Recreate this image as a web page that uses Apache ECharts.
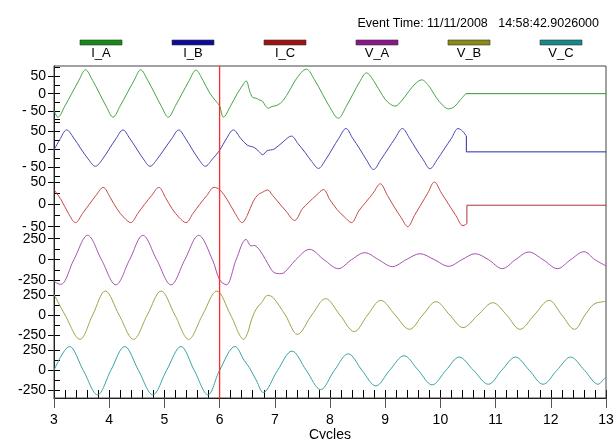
<!DOCTYPE html>
<html><head><meta charset="utf-8">
<script src="https://cdn.jsdelivr.net/npm/echarts@6/dist/echarts.min.js"></script>
<style>html,body{margin:0;padding:0;background:#fff}#c{width:614px;height:439px}</style>
</head><body><div id="c"></div>
<script>
// ---------- data ----------
const SERIES_NAMES = ['I_A', 'I_B', 'I_C', 'V_A', 'V_B', 'V_C'];
const EVENT_TIME = 'Event Time: 11/11/2008   14:58:42.9026000';
const X_AXIS_NAME = 'Cycles';
const X_MIN = 3, X_MAX = 13;
const FAULT_X = 6;
const Y_TICKS_I = [-50, 0, 50];
const Y_MINOR_I = [-75, -50, -25, 0, 25, 50, 75];
const Y_TICKS_V = [-250, 0, 250];
const Y_MINOR_V = [-250, -125, 0, 125, 250];

const IA_WAVE = [[3.00,-48],[3.07,-68],[3.20,-35],[3.32,0],[3.45,38],[3.57,69],[3.70,38],[3.82,2],[3.95,-38],[4.07,-68],
  [4.20,-35],[4.32,0],[4.45,38],[4.57,69],[4.70,38],[4.82,2],[4.95,-38],[5.07,-68],[5.20,-35],[5.32,0],[5.45,38],[5.57,68],
  [5.70,38],[5.82,2],[5.95,-25],[6.00,-35],[6.07,-68],[6.20,-35],[6.32,0],[6.42,25],[6.48,37],[6.55,5],[6.60,-11],[6.66,-13],
  [6.72,-18],[6.78,-22],[6.83,-35],[6.88,-42],[6.95,-37],[7.05,-33],[7.15,-20],[7.27,10],[7.40,45],[7.57,71],[7.72,40],
  [7.86,0],[8.00,-40],[8.15,-71],[8.30,-35],[8.42,0],[8.54,35],[8.66,60],[8.80,35],[8.95,-5],[9.05,-25],[9.18,-36],[9.30,-20],
  [9.42,5],[9.54,28],[9.66,40],[9.80,20],[9.92,-10],[10.05,-35],[10.15,-44],[10.25,-38],[10.35,-20],[10.46,0]];
const IA_TAIL = [[10.46,0],[13,0]];

const IB_WAVE = [[3.00,-3],[3.10,25],[3.23,53],[3.36,30],[3.49,0],[3.62,-28],[3.75,-48],[3.88,-28],[4.00,0],[4.12,28],[4.25,53],
  [4.37,30],[4.50,0],[4.62,-28],[4.74,-48],[4.87,-28],[5.00,0],[5.13,28],[5.26,53],[5.38,30],[5.50,0],[5.62,-28],[5.74,-48],
  [5.87,-28],[6.00,-4],[6.12,28],[6.25,53],[6.38,30],[6.50,11],[6.63,4],[6.72,-8],[6.78,-16],[6.86,-5],[6.99,0],[7.15,20],
  [7.30,36],[7.42,15],[7.55,-10],[7.67,-35],[7.79,-54],[7.92,-30],[8.04,0],[8.16,30],[8.29,57],[8.41,30],[8.54,0],[8.66,-30],
  [8.79,-57],[8.92,-30],[9.05,0],[9.18,30],[9.31,57],[9.44,30],[9.56,0],[9.69,-30],[9.81,-55],[9.94,-30],[10.07,0],[10.20,30],
  [10.32,57],[10.40,50],[10.47,36]];
const IB_TAIL = [[10.47,36],[10.47,-8],[13,-8]];

const IC_WAVE = [[3.00,33],[3.13,10],[3.26,-20],[3.39,-41],[3.52,-20],[3.64,0],[3.76,20],[3.89,38],[4.02,15],[4.14,-10],[4.27,-30],
  [4.39,-41],[4.52,-20],[4.64,0],[4.77,20],[4.90,38],[5.02,15],[5.14,-10],[5.27,-30],[5.39,-41],[5.52,-20],[5.64,0],[5.77,20],
  [5.90,38],[6.00,33],[6.14,10],[6.28,-20],[6.41,-41],[6.50,-25],[6.61,7],[6.70,22],[6.76,26],[6.87,32],[6.96,20],[7.05,7],
  [7.20,-15],[7.36,-36],[7.50,-10],[7.62,5],[7.75,20],[7.88,33],[8.00,10],[8.13,-12],[8.26,-28],[8.39,-41],[8.52,-15],[8.65,5],
  [8.78,25],[8.91,46],[9.04,20],[9.16,-5],[9.29,-30],[9.41,-50],[9.53,-25],[9.65,0],[9.77,25],[9.89,50],[10.02,25],[10.15,0],
  [10.28,-25],[10.41,-48],[10.48,-43]];
const IC_TAIL = [[10.48,-43],[10.48,-2],[13,-2]];

const VA_WAVE = [[3.00,-262],[3.12,-295],[3.36,0],[3.61,290],[3.86,0],[4.12,-300],[4.37,0],[4.61,290],[4.86,0],[5.12,-300],
  [5.37,0],[5.62,290],[5.87,0],[6.00,-240],[6.12,-300],[6.30,0],[6.48,242],[6.57,163],[6.62,170],[6.66,160],[6.73,111],
  [6.83,4],[6.92,-100],[6.99,-155],[7.12,-167],[7.25,-100],[7.38,0],[7.63,123],[7.89,0],[8.15,-107],[8.39,0],[8.63,83],
  [8.88,0],[9.13,-83],[9.38,0],[9.63,71],[9.89,0],[10.15,-79],[10.39,0],[10.63,71],[10.87,0],[11.12,-107],[11.36,0],
  [11.60,91],[11.86,0],[12.12,-107],[12.36,0],[12.60,95],[12.80,0],[13.00,-75]];

const VB_WAVE = [[3.00,258],[3.20,0],[3.47,-304],[3.70,0],[3.93,300],[4.18,0],[4.44,-304],[4.69,0],[4.94,300],[5.19,0],
  [5.44,-304],[5.69,0],[5.95,300],[6.20,0],[6.44,-304],[6.52,-200],[6.57,-75],[6.66,71],[6.76,154],[6.87,246],[6.97,217],
  [7.19,0],[7.41,-242],[7.67,0],[7.92,204],[8.18,0],[8.44,-208],[8.68,0],[8.92,183],[9.18,0],[9.44,-179],[9.68,0],
  [9.92,167],[10.17,0],[10.41,-158],[10.68,0],[10.95,154],[11.20,0],[11.44,-179],[11.70,0],[11.97,183],[12.20,0],
  [12.43,-179],[12.62,0],[12.78,135],[12.95,167],[13.00,170]];

const VC_WAVE = [[3.00,0],[3.28,300],[3.53,0],[3.79,-308],[4.03,0],[4.28,300],[4.53,0],[4.79,-308],[5.04,0],[5.30,300],
  [5.54,0],[5.79,-308],[6.00,0],[6.28,300],[6.45,120],[6.54,33],[6.67,-133],[6.79,-279],[7.05,0],[7.31,242],[7.57,0],
  [7.83,-242],[8.08,0],[8.33,208],[8.58,0],[8.83,-196],[9.08,0],[9.34,183],[9.60,0],[9.85,-183],[10.10,0],[10.34,167],
  [10.60,0],[10.87,-175],[11.11,0],[11.36,167],[11.61,0],[11.86,-175],[12.11,0],[12.36,167],[12.61,0],[12.86,-175],
  [12.97,-104],[13.00,-90]];

// ---------- styling / layout ----------
const WAVES = [IA_WAVE, IB_WAVE, IC_WAVE, VA_WAVE, VB_WAVE, VC_WAVE];
const TAILS = [IA_TAIL, IB_TAIL, IC_TAIL, null, null, null];
const LINE_COLORS = ['#47a347', '#4646b6', '#c64848', '#a450ae', '#a2a248', '#3aa3a3'];
const TAIL_COLORS = ['#2f962f', '#2a2aa6', '#b03434'];
const LEGEND_COLORS = ['#168a16', '#0c0c9c', '#a01212', '#8a168a', '#8a8a16', '#168a8a'];
const FAULT_COLOR = '#ff2a2a';
const Y_HALF = [80, 77, 62, 330, 346, 348];
const IS_CURRENT = [true, true, true, false, false, false];

const PLOT_TOP = 66, PLOT_BOTTOM = 398, PLOT_LEFT = 54, PLOT_RIGHT = 8;
const PH = (PLOT_BOTTOM - PLOT_TOP) / 6;
const FONT = 'Liberation Sans, Arial, sans-serif';

const grids = [], xAxes = [], yAxes = [], series = [];
for (let i = 0; i < 6; i++) {
  grids.push({left: PLOT_LEFT, right: PLOT_RIGHT, top: PLOT_TOP + i * PH, height: PH,
    containLabel: false, outerBoundsMode: 'none'});
  const isBottom = i === 5;
  xAxes.push({
    type: 'value', gridIndex: i, min: X_MIN, max: X_MAX, interval: 1, position: 'bottom',
    show: isBottom,
    axisLine: {show: isBottom, onZero: false, lineStyle: {color: '#000', width: 1}},
    axisTick: {show: isBottom, length: 10, inside: false, lineStyle: {color: '#555'}},
    axisLabel: {show: isBottom, fontSize: 14, color: '#000', margin: 15, fontFamily: FONT},
    splitLine: {show: false},
    name: isBottom ? X_AXIS_NAME : '', nameLocation: 'middle', nameGap: 28,
    nameTextStyle: {fontSize: 14, color: '#000', fontFamily: FONT}
  });
  const labels = IS_CURRENT[i] ? Y_TICKS_I : Y_TICKS_V;
  const minors = IS_CURRENT[i] ? Y_MINOR_I : Y_MINOR_V;
  const fmt = IS_CURRENT[i] ? (v => v < 0 ? '- ' + Math.abs(v) : String(v)) : (v => String(v));
  yAxes.push({
    type: 'value', gridIndex: i, min: -Y_HALF[i], max: Y_HALF[i], position: 'left',
    axisLine: {show: true, onZero: false, lineStyle: {color: '#000', width: 1}},
    axisTick: {show: true, inside: false, length: 6, customValues: labels, lineStyle: {color: '#000'}},
    axisLabel: {show: true, customValues: labels, formatter: fmt, fontSize: 14, color: '#000', margin: 8, fontFamily: FONT},
    splitLine: {show: false}
  });
  yAxes.push({
    type: 'value', gridIndex: i, min: -Y_HALF[i], max: Y_HALF[i], position: 'left', offset: 0,
    axisLine: {show: false, onZero: false},
    axisTick: {show: true, inside: true, length: 6, customValues: minors, lineStyle: {color: '#000'}},
    axisLabel: {show: false},
    splitLine: {show: false}
  });
  series.push({
    name: SERIES_NAMES[i], type: 'line', xAxisIndex: i, yAxisIndex: 2 * i,
    data: WAVES[i], smooth: 0.35, showSymbol: false, symbol: 'none',
    lineStyle: {color: LINE_COLORS[i], width: 1}, itemStyle: {color: LINE_COLORS[i]},
    animation: false, z: 3
  });
  if (TAILS[i]) {
    series.push({
      name: SERIES_NAMES[i] + ' tail', type: 'line', xAxisIndex: i, yAxisIndex: 2 * i,
      data: TAILS[i], smooth: false, showSymbol: false, symbol: 'none',
      lineStyle: {color: TAIL_COLORS[i], width: 1}, itemStyle: {color: TAIL_COLORS[i]}, animation: false, z: 3
    });
  }
}
// minor x ticks (inside) on bottom grid
xAxes.push({
  type: 'value', gridIndex: 5, min: X_MIN, max: X_MAX, interval: 0.2, position: 'bottom',
  axisLine: {show: false, onZero: false}, axisLabel: {show: false}, splitLine: {show: false},
  axisTick: {show: true, inside: true, length: 8, lineStyle: {color: '#000'}}
});
// frame grid spanning all panels (also carries the fault marker line)
grids.push({left: PLOT_LEFT, right: PLOT_RIGHT, top: PLOT_TOP, bottom: 439 - PLOT_BOTTOM, show: true,
  borderColor: '#444', borderWidth: 1, backgroundColor: 'transparent', z: 1,
  containLabel: false, outerBoundsMode: 'none'});
const FRAME_X = xAxes.length;
xAxes.push({type: 'value', gridIndex: 6, show: false, min: X_MIN, max: X_MAX});
const FRAME_Y = yAxes.length;
yAxes.push({type: 'value', gridIndex: 6, show: false, min: 0, max: 1});
series.push({
  name: 'fault', type: 'line', xAxisIndex: FRAME_X, yAxisIndex: FRAME_Y,
  data: [[FAULT_X, 0], [FAULT_X, 1]], showSymbol: false, symbol: 'none', silent: true,
  lineStyle: {color: FAULT_COLOR, width: 1.3, opacity: 1}, itemStyle: {color: FAULT_COLOR},
  emphasis: {disabled: true}, animation: false, z: 10
});

// legend drawn as graphic
const legendGraphics = [];
SERIES_NAMES.forEach((n, i) => {
  const cx = 101 + i * 92;
  legendGraphics.push({type: 'rect', shape: {x: cx - 21, y: 40, width: 42, height: 5},
    style: {fill: LEGEND_COLORS[i], stroke: '#333', lineWidth: 0.6}});
  legendGraphics.push({type: 'text', x: cx, y: 47,
    style: {text: n, fill: '#000', font: '13px "Liberation Sans", Arial, sans-serif', textAlign: 'center', textVerticalAlign: 'top'}});
});

const chart = echarts.init(document.getElementById('c'), null, {renderer: 'canvas'});
chart.setOption({
  backgroundColor: '#fff',
  animation: false,
  title: {text: EVENT_TIME, right: 10, top: 12,
    textStyle: {fontSize: 12.5, fontWeight: 'normal', color: '#000', fontFamily: FONT}},
  grid: grids, xAxis: xAxes, yAxis: yAxes, series: series,
  graphic: legendGraphics
});
</script>
</body></html>
